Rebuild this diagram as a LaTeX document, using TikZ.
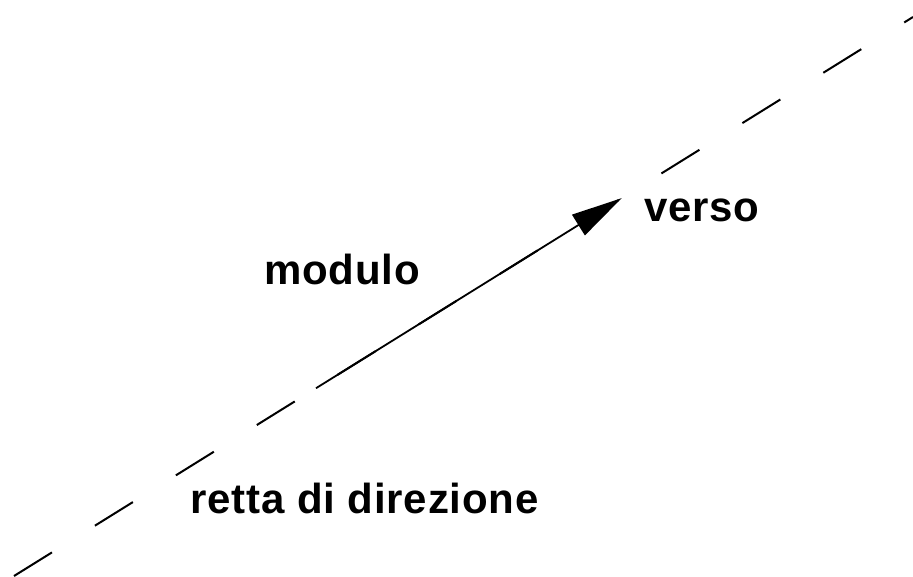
\documentclass[tikz,border=0pt]{standalone}
\usepackage{fontspec}
\setmainfont{Liberation Sans}
\newfontfamily\etichettafont[LetterSpace=2]{Liberation Sans}
\usetikzlibrary{arrows.meta,calc}
\begin{document}
\begin{tikzpicture}[x=1pt,y=-1pt,
  retta/.style={line width=2pt,dash pattern=on 44.7pt off 50.6pt},
  vettore/.style={line width=1.8pt,-{Triangle[length=51pt,width=24pt]}},
  etichetta/.style={anchor=base west,inner sep=0pt,font=\etichettafont\fontsize{42}{50}\selectfont\bfseries}]
\useasboundingbox (0,0) rectangle (913,576);
\coordinate (A) at (14,576);
\coordinate (B) at (913,17);
\coordinate (P) at ($(A)!0.3359!(B)$);
\coordinate (Q) at ($(A)!0.676!(B)$);
\draw[retta] (A) -- (B);
\draw[vettore] (P) -- (Q);
\node[etichetta] (verso) at (644,221.5) {verso};
\node[etichetta] (modulo) at (264,284) {modulo};
\node[etichetta] (retta) at (190,513) {retta di direzione};
\end{tikzpicture}
\end{document}
